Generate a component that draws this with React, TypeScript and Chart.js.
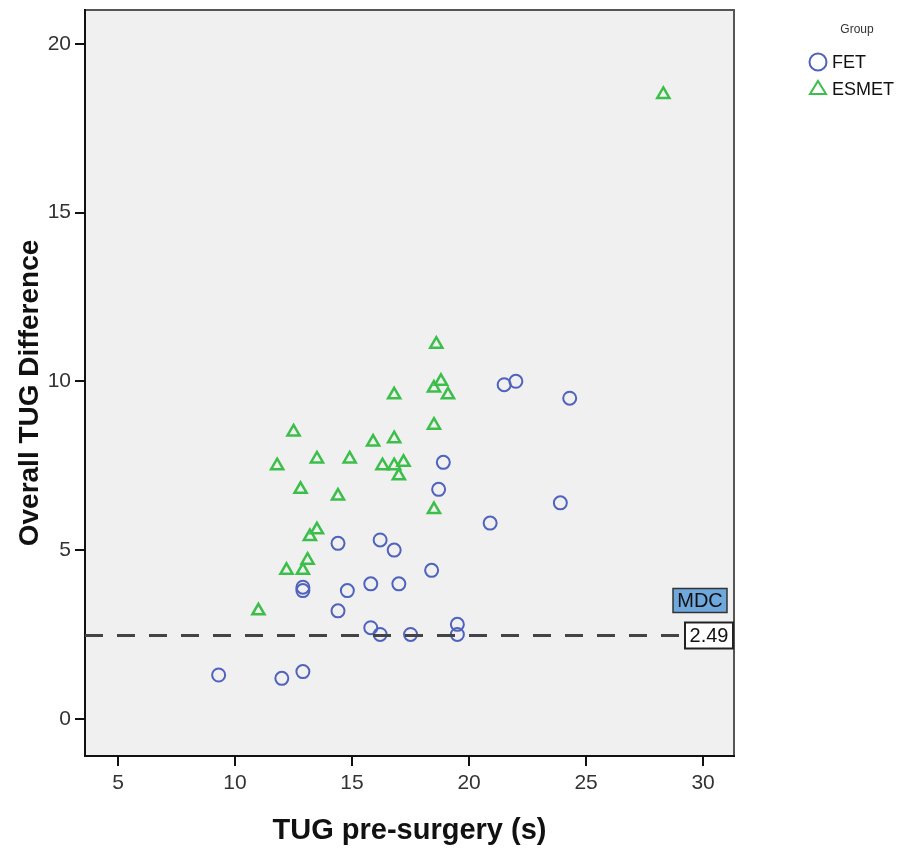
import React, { useEffect, useRef } from "react";
import { Chart, registerables } from "chart.js";

Chart.register(...registerables);

// ---- data ----
const fetX = [22.0, 21.5, 24.3, 18.9, 18.7, 23.9, 20.9, 14.4, 16.2, 16.8, 18.4, 15.8, 17.0, 14.8, 12.9, 12.9, 14.4, 15.8, 16.2, 17.5, 19.5, 19.5, 9.3, 12.0, 12.9];
const fetY = [10.0, 9.9, 9.5, 7.6, 6.8, 6.4, 5.8, 5.2, 5.3, 5.0, 4.4, 4.0, 4.0, 3.8, 3.9, 3.8, 3.2, 2.7, 2.5, 2.5, 2.8, 2.5, 1.3, 1.2, 1.4];
const esmetX = [28.3, 18.6, 18.8, 18.5, 19.1, 16.8, 18.5, 12.5, 15.9, 16.8, 11.8, 13.5, 14.9, 16.3, 16.8, 17.2, 17.0, 12.8, 14.4, 18.5, 13.5, 13.2, 13.1, 12.2, 12.9, 11.0];
const esmetY = [18.5, 11.1, 10.0, 9.8, 9.6, 9.6, 8.7, 8.5, 8.2, 8.3, 7.5, 7.7, 7.7, 7.5, 7.5, 7.6, 7.2, 6.8, 6.6, 6.2, 5.6, 5.4, 4.7, 4.4, 4.4, 3.2];
const seriesNames = ["FET", "ESMET"];
const mdcValue = 2.49;
const mdcLabel = "MDC";
const legendTitle = "Group";
const xTitle = "TUG pre-surgery (s)";
const yTitle = "Overall TUG Difference";
const xMin = 3.59, xMax = 31.32, yMin = -1.1, yMax = 21.0;

const FET_COLOR = "#4f62bd";
const ESMET_COLOR = "#3cbf4a";
const FONT = "'Liberation Sans', Arial, sans-serif";

const decor = {
  id: "decor",
  beforeDraw(chart: any) {
    const { ctx, chartArea: a } = chart;
    ctx.save();
    ctx.fillStyle = "#f0f0f0";
    ctx.fillRect(a.left, a.top, a.right - a.left, a.bottom - a.top);
    ctx.strokeStyle = "#555";
    ctx.lineWidth = 2;
    ctx.beginPath();
    ctx.moveTo(a.left, a.top);
    ctx.lineTo(a.right, a.top);
    ctx.lineTo(a.right, a.bottom);
    ctx.stroke();
    ctx.restore();
  },
  afterDatasetsDraw(chart: any) {
    const { ctx, chartArea: a, scales } = chart;
    const y = Math.round(scales.y.getPixelForValue(mdcValue)) + 0.5;
    ctx.save();
    ctx.strokeStyle = "#444";
    ctx.lineWidth = 3;
    ctx.setLineDash([18, 14]);
    ctx.beginPath();
    ctx.moveTo(a.left, y);
    ctx.lineTo(a.right, y);
    ctx.stroke();
    ctx.setLineDash([]);

    ctx.font = "20px " + FONT;
    ctx.textBaseline = "middle";
    ctx.textAlign = "center";
    // value box
    const vw = 48, vh = 26;
    const vx = a.right - 1 - vw;
    ctx.fillStyle = "#fff";
    ctx.fillRect(vx, y - vh / 2, vw, vh);
    ctx.strokeStyle = "#222";
    ctx.lineWidth = 2;
    ctx.strokeRect(vx, y - vh / 2, vw, vh);
    ctx.fillStyle = "#111";
    ctx.fillText(mdcValue.toFixed(2), vx + vw / 2, y + 1);
    // MDC box
    const mw = 54, mh = 24;
    const mx = a.right - 7 - mw;
    const my = y - 35 - mh / 2;
    ctx.fillStyle = "#6fa8dc";
    ctx.fillRect(mx, my, mw, mh);
    ctx.strokeStyle = "#333";
    ctx.lineWidth = 1.5;
    ctx.strokeRect(mx, my, mw, mh);
    ctx.fillStyle = "#111";
    ctx.fillText(mdcLabel, mx + mw / 2, my + mh / 2 + 1);
    ctx.restore();
  },
  afterDraw(chart: any) {
    const { ctx, chartArea: a } = chart;
    ctx.save();
    // y-axis title
    ctx.save();
    ctx.translate(30, (a.top + a.bottom) / 2 + 10);
    ctx.rotate(-Math.PI / 2);
    ctx.font = "bold 28px " + FONT;
    ctx.fillStyle = "#111";
    ctx.textAlign = "center";
    ctx.textBaseline = "middle";
    ctx.fillText(yTitle, 0, 0);
    ctx.restore();
    // legend
    ctx.fillStyle = "#333";
    ctx.font = "12px " + FONT;
    ctx.textAlign = "center";
    ctx.textBaseline = "middle";
    ctx.fillText(legendTitle, 857, 30);
    ctx.strokeStyle = FET_COLOR;
    ctx.lineWidth = 2;
    ctx.beginPath();
    ctx.arc(818, 62, 8.5, 0, Math.PI * 2);
    ctx.stroke();
    ctx.strokeStyle = ESMET_COLOR;
    ctx.beginPath();
    ctx.moveTo(818, 81);
    ctx.lineTo(826, 94);
    ctx.lineTo(810, 94);
    ctx.closePath();
    ctx.stroke();
    ctx.fillStyle = "#111";
    ctx.font = "18px " + FONT;
    ctx.textAlign = "left";
    ctx.fillText(seriesNames[0], 832, 63);
    ctx.fillText(seriesNames[1], 832, 90);
    ctx.restore();
  },
};

export default function App() {
  const ref = useRef<HTMLCanvasElement>(null);
  useEffect(() => {
    if (!ref.current) return;
    const chart = new Chart(ref.current, {
      type: "scatter",
      data: {
        datasets: [
          {
            label: seriesNames[0],
            data: fetX.map((x, i) => ({ x, y: fetY[i] })),
            pointStyle: "circle",
            pointRadius: 6.5,
            pointBorderWidth: 2,
            pointBorderColor: FET_COLOR,
            pointBackgroundColor: "rgba(0,0,0,0)",
          },
          {
            label: seriesNames[1],
            data: esmetX.map((x, i) => ({ x, y: esmetY[i] })),
            pointStyle: "triangle",
            pointRadius: 7,
            pointBorderWidth: 2.5,
            pointBorderColor: ESMET_COLOR,
            pointBackgroundColor: "rgba(0,0,0,0)",
          },
        ],
      },
      options: {
        responsive: false,
        animation: false,
        devicePixelRatio: 1,
        layout: { padding: { left: 12, top: 10, right: 164, bottom: 0 } },
        plugins: { legend: { display: false }, tooltip: { enabled: false } },
        scales: {
          x: {
            type: "linear",
            min: xMin,
            max: xMax,
            afterFit: (s: any) => { s.height = 92; s.paddingLeft = 0; s.paddingRight = 0; },
            ticks: { stepSize: 5, includeBounds: false, padding: 5, color: "#333", font: { size: 21, family: FONT } },
            grid: { drawOnChartArea: false, tickLength: 10, color: "#111", lineWidth: 2 },
            border: { display: true, color: "#111", width: 2 },
            title: { display: true, text: xTitle, color: "#111", font: { size: 29, weight: "bold", family: FONT }, padding: { top: 4, bottom: 0 } },
          },
          y: {
            type: "linear",
            min: yMin,
            max: yMax,
            afterFit: (s: any) => { s.width = 73; s.paddingTop = 0; s.paddingBottom = 0; },
            ticks: { stepSize: 5, includeBounds: false, padding: 4, color: "#333", font: { size: 21, family: FONT } },
            grid: { drawOnChartArea: false, tickLength: 10, color: "#111", lineWidth: 2 },
            border: { display: true, color: "#111", width: 2 },
            title: { display: false, text: yTitle },
          },
        },
      },
      plugins: [decor],
    } as any);
    return () => chart.destroy();
  }, []);
  return (
    <canvas
      ref={ref}
      width={898}
      height={848}
      style={{ position: "fixed", left: 0, top: 0, width: 898, height: 848 }}
    />
  );
}
